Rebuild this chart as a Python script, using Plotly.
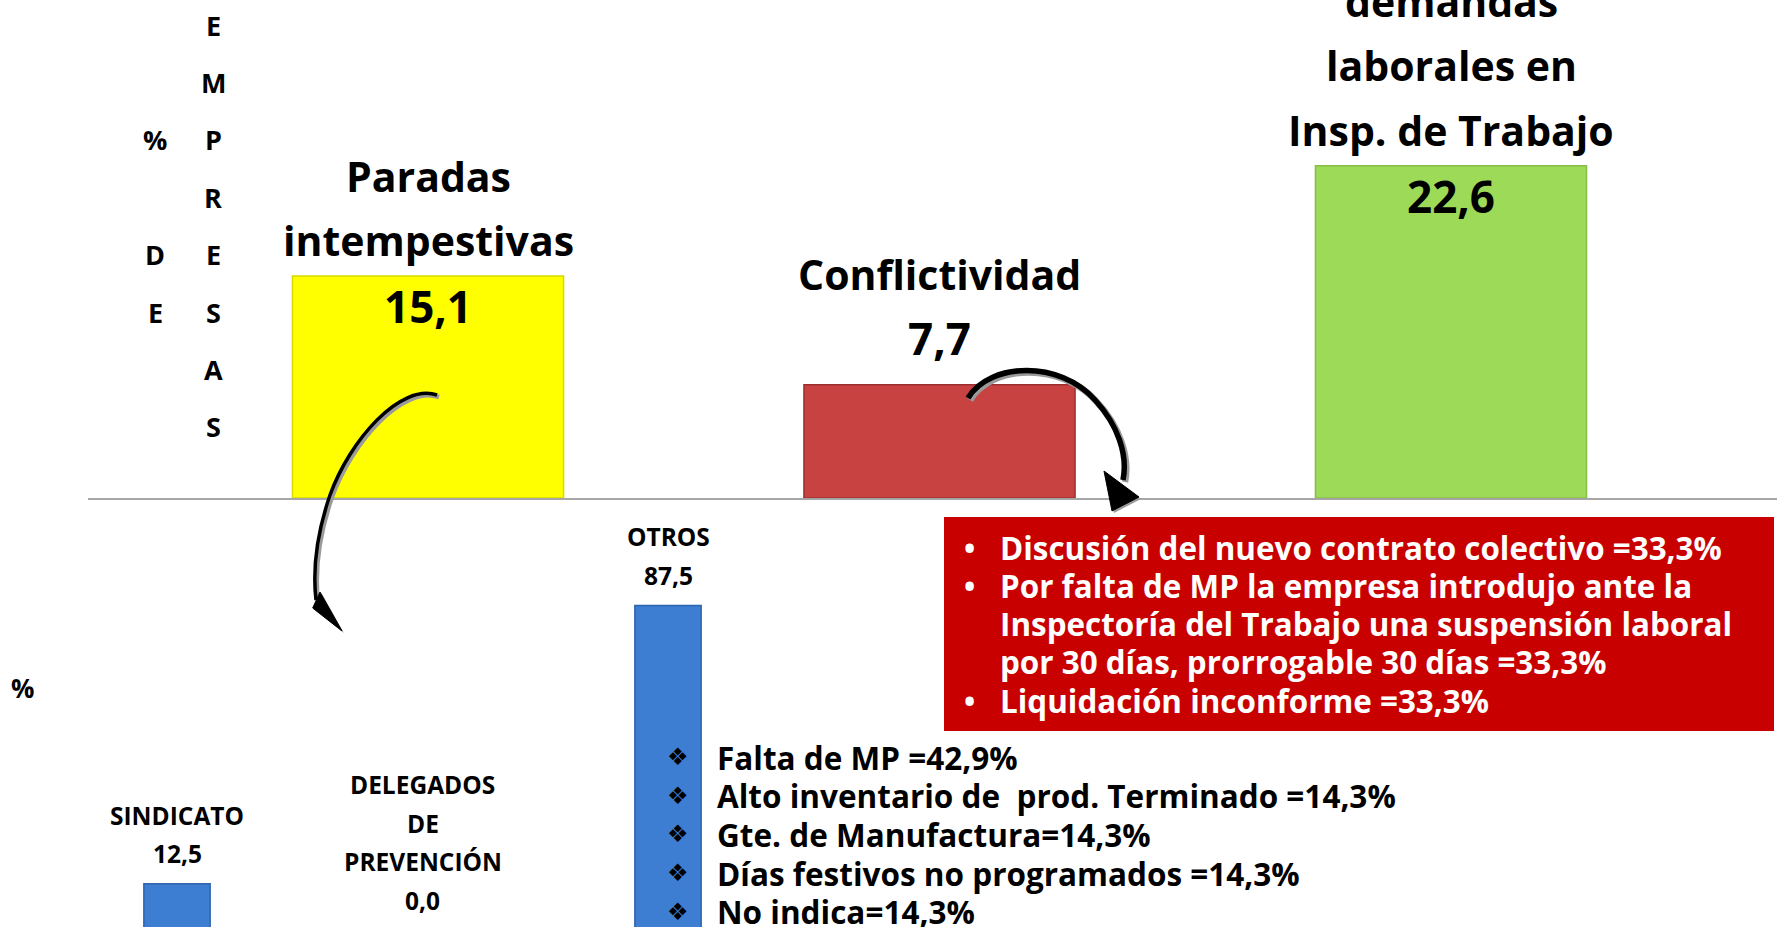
import plotly.graph_objects as go

W, H = 1777, 927
FONT = "Open Sans"

# top chart: causes of stoppages (% de empresas)
top_cats = ["Paradas intempestivas", "Conflictividad", "Demandas laborales en Insp. de Trabajo"]
top_values = [15.1, 7.7, 22.6]
top_text = ["15,1", "7,7", "22,6"]
top_title_lines = [["Paradas", "intempestivas"], ["Conflictividad"],
                   ["demandas", "laborales en", "Insp. de Trabajo"]]
top_colors = ["#FFFF00", "#C94242", "#9DDA57"]
top_edges = ["#D8D800", "#9E2E2E", "#86BF45"]

# bottom chart: who requested the stoppages
bottom_cats = ["SINDICATO", "DELEGADOS DE PREVENCIÓN", "OTROS"]
bottom_values = [12.5, 0.0, 87.5]
bottom_text = ["12,5", "0,0", "87,5"]
bottom_title_lines = [["SINDICATO"], ["DELEGADOS", "DE", "PREVENCIÓN"], ["OTROS"]]

otros_detail = ["Falta de MP =42,9%",
                "Alto inventario de \u00a0prod. Terminado =14,3%",
                "Gte. de Manufactura=14,3%",
                "Días festivos no programados =14,3%",
                "No indica=14,3%"]

conflict_detail = [["Discusión del nuevo contrato colectivo =33,3%"],
                   ["Por falta de MP la empresa introdujo ante la",
                    "Inspectoría del Trabajo una suspensión laboral",
                    "por 30 días, prorrogable 30 días =33,3%"],
                   ["Liquidación inconforme =33,3%"]]

ytitle_col1 = ["", "", "%", "", "D", "E"]
ytitle_col2 = list("EMPRESAS")

# bottom panel: zero line sits just under the page edge
BOT_ZERO = 930
BOT_SCALE = 3.71  # px per %


def px(x):
    return x / W


def py(y):
    return 1 - y / H


def note(x, y, text, size, color="black", xanchor="center", family=FONT):
    return dict(x=px(x), y=py(y), xref="paper", yref="paper", text=text,
                showarrow=False, xanchor=xanchor, yanchor="middle",
                font=dict(size=size, color=color, family=family))


fig = go.Figure()
fig.add_trace(go.Bar(
    x=top_cats, y=top_values, xaxis="x", yaxis="y", width=0.53,
    marker=dict(color=top_colors, line=dict(color=top_edges, width=1.5)),
    hoverinfo="skip",
))
fig.add_trace(go.Bar(
    x=bottom_cats, y=bottom_values, xaxis="x2", yaxis="y2", width=0.27,
    marker=dict(color="#3D7DD2", line=dict(color="#2F63AE", width=1.5)),
    hoverinfo="skip",
))

ann = []

# top labels, stacked above each bar
for cat, val, txt, lines in zip(top_cats, top_values, top_text, top_title_lines):
    if val < 10:
        ann.append(dict(x=cat, y=val, xref="x", yref="y", text="<b>%s</b>" % txt,
                        showarrow=False, yshift=47, font=dict(size=44, color="black")))
        last = 111
    else:
        ann.append(dict(x=cat, y=val, xref="x", yref="y", text="<b>%s</b>" % txt,
                        showarrow=False, yshift=-30, font=dict(size=44, color="black")))
        last = 36
    for i, line in enumerate(reversed(lines)):
        ann.append(dict(x=cat, y=val, xref="x", yref="y", text="<b>%s</b>" % line,
                        showarrow=False, yshift=last + 64.5 * i,
                        font=dict(size=41, color="black")))

# bottom labels (paper y so the 0,0 label is kept)
for cat, val, txt, lines in zip(bottom_cats, bottom_values, bottom_text, bottom_title_lines):
    stack = lines + [txt]
    top_px = BOT_ZERO - val * BOT_SCALE
    for i, line in enumerate(reversed(stack)):
        ann.append(dict(x=cat, y=py(top_px - 30 - 38.5 * i), xref="x2", yref="paper",
                        text="<b>%s</b>" % line, showarrow=False, yanchor="middle",
                        font=dict(size=24.5, color="black")))

# vertical axis title "% DE EMPRESAS"
for i, ch in enumerate(ytitle_col1):
    if ch:
        ann.append(note(155, 25 + 57.4 * i, "<b>%s</b>" % ch, 27))
for i, ch in enumerate(ytitle_col2):
    ann.append(note(213, 25 + 57.4 * i, "<b>%s</b>" % ch, 27))
ann.append(note(22, 688, "<b>%</b>", 26))

# conflict details in red box
row = 0
for item in conflict_detail:
    ann.append(note(969, 547 + 38.3 * row, "<b>•</b>", 30, "white"))
    for line in item:
        ann.append(note(998, 547 + 38.3 * row, "<b>%s</b>" % line, 31.4, "white", "left"))
        row += 1

# OTROS details
for i, line in enumerate(otros_detail):
    ann.append(note(678, 757 + 38.7 * i, "❖", 24, family="DejaVu Sans"))
    ann.append(note(715, 757 + 38.7 * i, "<b>%s</b>" % line, 31.5, xanchor="left"))


def path(cmds):
    out = []
    for c in cmds:
        if isinstance(c, str):
            out.append(c)
        else:
            out.append("%.5f,%.5f" % (px(c[0]), py(c[1])))
    return " ".join(out)


def shifted(cmds, d):
    return [c if isinstance(c, str) else (c[0] + d, c[1] + d) for c in cmds]


arrow1 = ["M", (437, 395), "C", (400, 383), (350, 440), (330, 495),
          "C", (318, 530), (312, 565), (316, 600)]
head1 = ["M", (320, 592), "L", (312.7, 608), "L", (342, 631), "Z"]
arrow2 = ["M", (968, 398), "C", (990, 362), (1060, 360), (1095, 400),
          "C", (1118, 425), (1128, 455), (1123, 480)]
head2 = ["M", (1104, 471), "L", (1139, 497), "L", (1112, 511), "Z"]

shapes = [
    dict(type="rect", xref="paper", yref="paper", x0=px(944), x1=px(1774),
         y0=py(731), y1=py(517), fillcolor="#C80000", line=dict(width=0), layer="below"),
]
for a, w in [(arrow1, 3.5), (arrow2, 5.5)]:
    shapes.append(dict(type="path", xref="paper", yref="paper", path=path(shifted(a, 2)),
                       line=dict(color="#9A9A9A", width=w + 1)))
    shapes.append(dict(type="path", xref="paper", yref="paper", path=path(a),
                       line=dict(color="black", width=w)))
for hd in [head1, head2]:
    shapes.append(dict(type="path", xref="paper", yref="paper", path=path(shifted(hd, 2)),
                       fillcolor="#9A9A9A", line=dict(width=0)))
    shapes.append(dict(type="path", xref="paper", yref="paper", path=path(hd),
                       fillcolor="black", line=dict(color="black", width=1)))

fig.update_layout(
    width=W, height=H,
    margin=dict(l=0, r=0, t=0, b=0),
    paper_bgcolor="white", plot_bgcolor="white",
    showlegend=False,
    font=dict(family=FONT, color="black"),
    xaxis=dict(domain=[px(88), 1], range=[(88 - 428) / 511.5, (1777 - 428) / 511.5],
               showticklabels=False, ticks="", showgrid=False, zeroline=False,
               showline=True, linecolor="#A6A6A6", linewidth=2),
    yaxis=dict(domain=[py(498), 1], range=[0, 498 / 14.7], visible=False),
    xaxis2=dict(domain=[0, 1], range=[-177 / 245.5, (1777 - 177) / 245.5],
                showticklabels=False, ticks="", showgrid=False, zeroline=False,
                showline=False, anchor="y2"),
    yaxis2=dict(domain=[0, py(519)],
                range=[(BOT_ZERO - H) / BOT_SCALE, (BOT_ZERO - 519) / BOT_SCALE],
                visible=False, anchor="x2"),
    annotations=ann,
    shapes=shapes,
)

fig.write_html("out.html", config={"displayModeBar": False},
               post_script="document.body.style.margin='0';")
